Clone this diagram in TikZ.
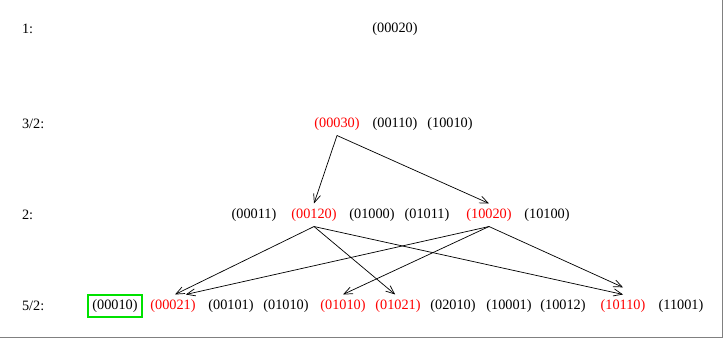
\documentclass[tikz,border=0pt]{standalone}
\usepackage{fontspec}
\setmainfont{Liberation Serif}
\usetikzlibrary{arrows.meta}
\definecolor{boxgreen}{RGB}{0,225,0}

\begin{document}
\begin{tikzpicture}[x=0.7pt,y=-0.7pt,
    hot/.style={red},
    arr/.style={-{Straight Barb[length=6pt,width=5pt]},line width=0.5pt}]
        \useasboundingbox (0,0) rectangle (725,339);
        \draw[gray] (0,337)--(722,337)--(722,0);
        \node[anchor=west] (l1) at (17,29) {1:};
        \node[anchor=west] (l3) at (17,124) {3/2:};
        \node[anchor=west] (l2) at (17,215) {2:};
        \node[anchor=west] (l5) at (17,306) {5/2:};
        \node (a00020) at (395,29) {(00020)};
        \node[hot] (b00030) at (337,124) {(00030)};
        \node (b00110) at (395,124) {(00110)};
        \node (b10010) at (450,124) {(10010)};
        \node (c00011) at (254,215) {(00011)};
        \node[hot] (c00120) at (314,215) {(00120)};
        \node (c01000) at (372,215) {(01000)};
        \node (c01011) at (427,215) {(01011)};
        \node[hot] (c10020) at (489,215) {(10020)};
        \node (c10100) at (547,215) {(10100)};
        \node[draw=boxgreen,line width=1.4pt] (d00010) at (115,306) {(00010)};
        \node[hot] (d00021) at (173,306) {(00021)};
        \node (d00101) at (231,306) {(00101)};
        \node (d01010) at (286,306) {(01010)};
        \node[hot] (d01010r) at (343,306) {(01010)};
        \node[hot] (d01021) at (398,306) {(01021)};
        \node (d02010) at (453,306) {(02010)};
        \node (d10001) at (509,306) {(10001)};
        \node (d10012) at (563,306) {(10012)};
        \node[hot] (d10110) at (623,306) {(10110)};
        \node (d11001) at (681,306) {(11001)};
        % arrows
        \draw[arr] (b00030.south) -- (c00120.north);
        \draw[arr] (b00030.south) -- (c10020.north);
        \draw[arr] (c00120.south) -- ([xshift=1.4pt]d00021.north);
        \draw[arr] (c00120.south) -- ([xshift=-2pt]d01021.north);
        \draw[arr] (c00120.south) -- (d10110.north);
        \draw[arr] (c10020.south) -- ([xshift=9pt]d00021.north);
        \draw[arr] (c10020.south) -- (d01010r.north);
        \draw[arr] (c10020.south) -- ([yshift=5pt]d10110.north);
    \end{tikzpicture}
\end{document}
